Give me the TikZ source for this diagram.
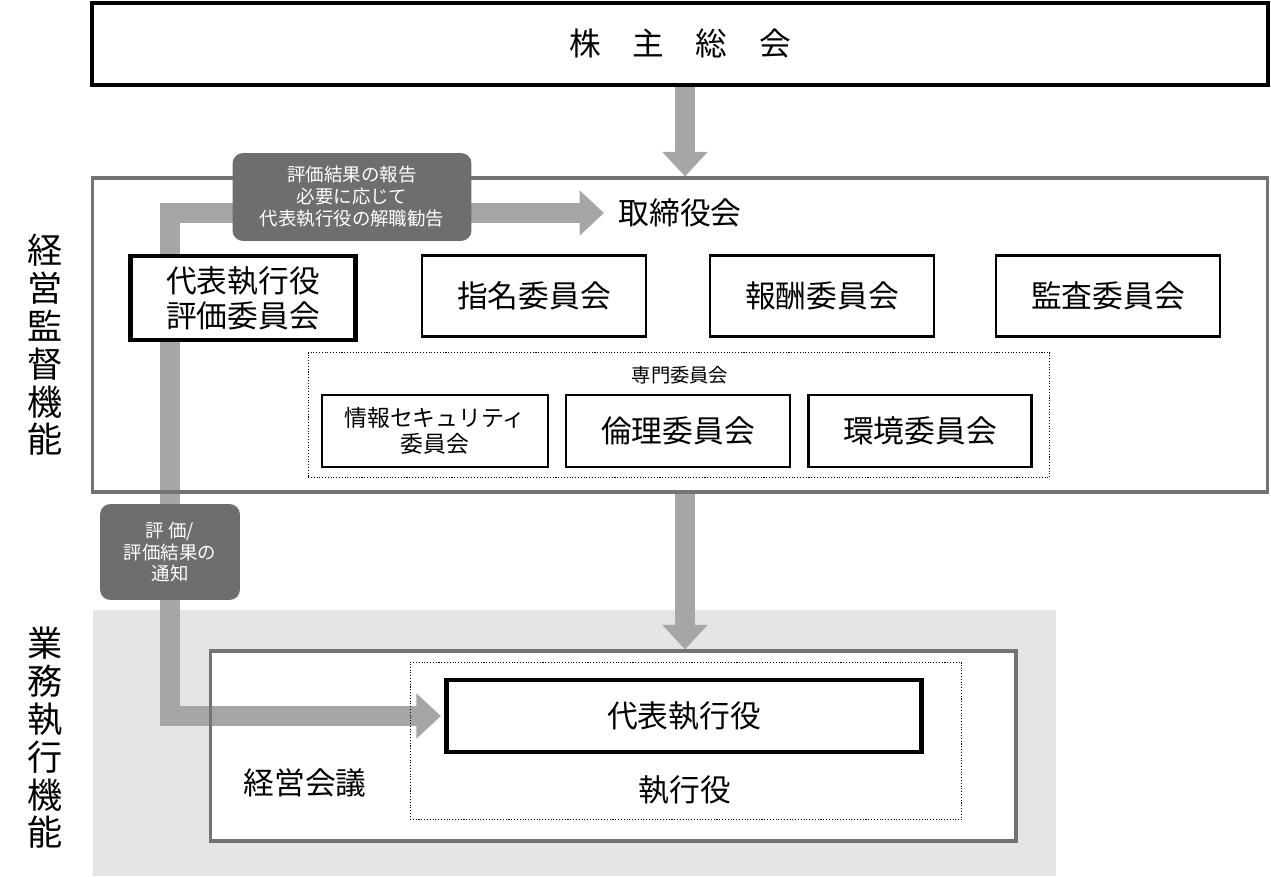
\documentclass[tikz,border=0pt]{standalone}
\usepackage{fontspec}
\setmainfont{Noto Sans CJK JP}
\usetikzlibrary{arrows.meta, positioning, backgrounds}

\begin{document}
\begin{tikzpicture}[x=0.02cm, y=-0.02cm,
    every node/.style={align=center, inner sep=0pt},
    bigbox/.style={draw=black, fill=white, line width=2.4pt},
    box/.style={draw=black, fill=white, line width=1.2pt, font=\fontsize{17.5}{20}\selectfont},
    graybox/.style={draw=black!55, line width=1.8pt},
    dotbox/.style={draw=black, densely dotted, line width=0.6pt},
    tag/.style={fill=black!57, rounded corners=6pt, text=white, font=\fontsize{10.5}{12.5}\selectfont},
    side/.style={font=\fontsize{20}{21.5}\selectfont},
    bigarrow/.style={draw=black!35, line width=11pt, -{Triangle[width=25pt, length=14pt]}},
  ]
  \useasboundingbox (0,0) rectangle (1271,876);

  % shareholders and board
  \node[bigbox, minimum width=23.52cm, minimum height=1.64cm,
        font=\fontsize{18}{20}\selectfont] (soukai) at (680,44) {株\quad 主\quad 総\quad 会};
  \node[graybox, minimum width=23.52cm, minimum height=6.28cm] (board) at (680,335) {};
  \node[font=\fontsize{17.5}{20}\selectfont] (torishimari) at (680,213) {取締役会};

  % committees
  \node[box, line width=2.4pt, minimum width=4.5cm, minimum height=1.68cm] (hyoka) at (243,298) {代表執行役\\評価委員会};
  \node[box, minimum width=4.48cm, minimum height=1.62cm] (shimei) at (534,296) {指名委員会};
  \node[box, minimum width=4.48cm, minimum height=1.62cm] (houshu) at (822,296) {報酬委員会};
  \node[box, minimum width=4.48cm, minimum height=1.62cm] (kansa) at (1108,296) {監査委員会};

  % special committees
  \node[dotbox, minimum width=14.84cm, minimum height=2.5cm] (senmon) at (679,415) {};
  \node[font=\fontsize{11}{13}\selectfont] (senmonlbl) at (680,375) {専門委員会};
  \node[box, font=\fontsize{13}{15}\selectfont, minimum width=4.52cm, minimum height=1.44cm] (security) at (435,431) {情報セキュリティ\\委員会};
  \node[box, minimum width=4.48cm, minimum height=1.44cm] (rinri) at (678,431) {倫理委員会};
  \node[box, minimum width=4.46cm, minimum height=1.44cm] (kankyo) at (920,431) {環境委員会};

  % execution
  \node[graybox, minimum width=16.12cm, minimum height=3.8cm] (kaigi) at (613,746) {};
  \node[font=\fontsize{17.5}{20}\selectfont] (kaigilbl) at (305,783) {経営会議};
  \node[dotbox, minimum width=11.04cm, minimum height=3.14cm] (shikko) at (686,741) {};
  \node[bigbox, minimum width=9.5cm, minimum height=1.44cm, font=\fontsize{17.5}{20}\selectfont] (daihyo) at (684,716) {代表執行役};
  \node[font=\fontsize{17.5}{20}\selectfont] (shikkolbl) at (685,790) {執行役};

  % side labels
  \node[side] (kantoku) at (45,345) {経\\営\\監\\督\\機\\能};
  \node[side] (gyomu) at (45,738) {業\\務\\執\\行\\機\\能};

  % flows
  \coordinate (turn) at (170,500);
  \begin{pgfonlayer}{background}
    \fill[black!10] (93,610) rectangle (1056,876);
    \fill[white] (kaigi.north west) rectangle (kaigi.south east);
    \draw[bigarrow] (soukai.south -| 685,0) -- (board.north -| 685,0);
    \draw[bigarrow] (board.south -| 685,0) -- (kaigi.north -| 685,0);
    \draw[bigarrow, shorten >=8pt] (turn) |- (torishimari.west);
    \draw[bigarrow, shorten >=2pt] (turn) |- (daihyo.west);
  \end{pgfonlayer}

  % flow labels
  \node[tag, minimum width=4.78cm, minimum height=1.76cm] (report) at (352,197) {評価結果の報告\\必要に応じて\\代表執行役の解職勧告};
  \node[tag, minimum width=2.8cm, minimum height=1.92cm] (notice) at (170,552) {評 価/\\評価結果の\\通知};
\end{tikzpicture}
\end{document}
